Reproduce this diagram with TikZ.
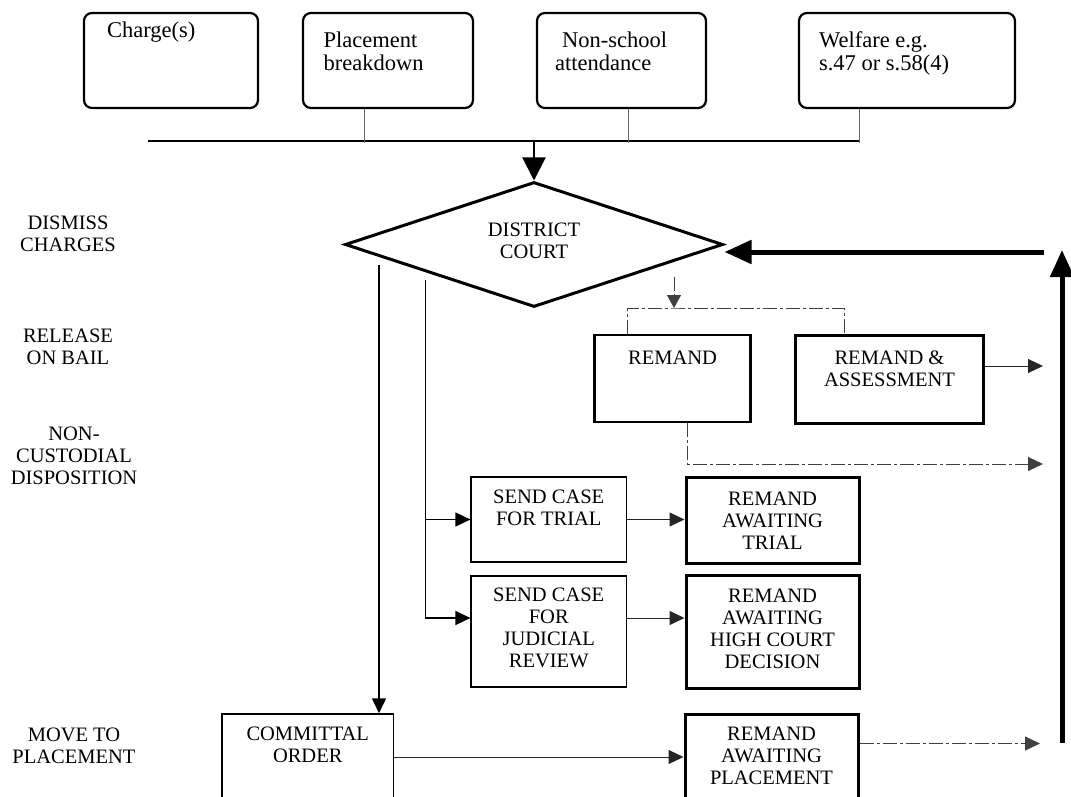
\documentclass[tikz,border=0pt]{standalone}
\usepackage{fontspec}
\setmainfont{Liberation Serif}
\usetikzlibrary{arrows.meta,shapes.geometric}

\tikzset{
  capsfont/.style={font=\fontsize{20.5}{22}\selectfont},
  topbox/.style={draw, line width=2.2pt, rounded corners=8pt, minimum height=95pt},
  toplbl/.style={anchor=north west, align=left, inner sep=0pt, font=\fontsize{22.5}{23}\selectfont},
  thinbox/.style={draw, line width=1.2pt, minimum width=155.5pt},
  heavybox/.style={draw, line width=3pt, minimum width=173pt},
  inlbl/.style={anchor=north, align=center, inner sep=0pt},
  side/.style={align=center},
  tip/.style={-{Triangle[length=15pt,width=14pt]}},
  feed/.style={line width=1.6pt, tip},
  thinarr/.style={line width=1pt, black!85, tip},
  conn/.style={line width=0.8pt, black!60},
  dline/.style={line width=1pt, black!75, dash pattern=on 14pt off 3pt on 3pt off 3pt},
  bigarr/.style={line width=5pt, -{Triangle[length=27pt,width=23pt]}},
}

\begin{document}
\begin{tikzpicture}[x=1pt, y=-1pt, capsfont]
\useasboundingbox (0,0) rectangle (1071,797);
\clip (0,0) rectangle (1071,797);

% referral routes
\node[topbox, minimum width=174pt, label={[toplbl, xshift=24pt, yshift=-10pt]north west:Charge(s)}] (charge) at (171,60.5) {};
\node[topbox, minimum width=170pt, label={[toplbl, xshift=21.5pt, yshift=-20pt]north west:Placement\\breakdown}] (breakdown) at (388,60.5) {};
\node[topbox, minimum width=169pt, label={[toplbl, xshift=19pt, yshift=-20pt]north west:\hspace*{7pt}Non-school\\attendance}] (school) at (621.5,60.5) {};
\node[topbox, minimum width=216pt, label={[toplbl, xshift=21pt, yshift=-20pt]north west:Welfare e.g.\\s.47 or s.58(4)}] (welfare) at (907,60.5) {};

\coordinate (busW) at (148,141);
\coordinate (busE) at (859,141);
\coordinate (busdrop) at (534,141);
\draw[line width=2pt] (busW) -- (busE);
\draw[conn] ([xshift=-24pt]breakdown.south) -- ++(0,34);
\draw[conn] ([xshift=6.5pt]school.south) -- ++(0,34);
\draw[conn] ([xshift=-48pt]welfare.south) -- ++(0,34);

% court
\node[draw, diamond, aspect=3, line width=3pt, minimum width=378pt, minimum height=125pt, inner sep=0pt,
  label={[align=center, anchor=center, yshift=3.5pt]center:DISTRICT\\COURT}] (court) at (534,244.5) {};
\draw[line width=2pt, -{Triangle[length=23pt,width=23pt]}] (busdrop) -- (court.north);

% outcomes down the side
\node[side] (dismiss) at (68,234) {DISMISS\\CHARGES};
\node[side] (bail) at (68,346.5) {RELEASE\\ON BAIL};
\node[side] (noncust) at (74,456) {NON-\\CUSTODIAL\\DISPOSITION};
\node[side] (moveto) at (74,746) {MOVE TO\\PLACEMENT};

% remand
\node[draw, line width=2.8pt, minimum width=156pt, minimum height=87pt, label={[inlbl, yshift=-17pt]north:REMAND}] (remand) at (672.6,378.5) {};
\node[draw, line width=3pt, minimum width=188pt, minimum height=88pt, label={[inlbl, yshift=-17pt]north:REMAND \&\\ASSESSMENT}] (assess) at (889.5,379) {};

\coordinate (forktop) at (674,277);
\coordinate (fork) at (674,308);
\draw[dline, -{Triangle[length=13pt,width=14pt]}] (forktop) -- (fork);
\draw[dline] ([xshift=-45pt]remand.north) |- (fork) -| ([xshift=-45pt]assess.north);

\coordinate (outA) at (1043,366);
\coordinate (outB) at (1043,464);
\draw[thinarr] ([yshift=13pt]assess.east) -- (outA);
\draw[dline, tip] ([xshift=15pt]remand.south) |- (outB);

% sending on
\node[thinbox, minimum height=85pt, label={[inlbl, yshift=-13pt]north:SEND CASE\\FOR TRIAL}] (trial) at (548.75,519.5) {};
\node[thinbox, minimum height=111pt, label={[inlbl, yshift=-12pt]north:SEND CASE\\FOR\\JUDICIAL\\REVIEW}] (judicial) at (548.75,631.5) {};
\node[heavybox, minimum height=86pt, label={[inlbl, yshift=-16pt]north:REMAND\\AWAITING\\TRIAL}] (awaittrial) at (772.5,520) {};
\node[heavybox, minimum height=113pt, label={[inlbl, yshift=-15pt]north:REMAND\\AWAITING\\HIGH COURT\\DECISION}] (highcourt) at (772.5,631.5) {};

\coordinate (splitA) at (379,265);
\coordinate (splitB) at (425.5,280);
\coordinate (jr) at ([yshift=13.5pt]judicial.west);
\draw[feed] (splitB) |- (jr);
\draw[feed] (splitB |- trial.west) -- (trial.west);
\draw[thinarr] (trial.east) -- (trial.east -| awaittrial.west);
\draw[thinarr] (jr -| judicial.east) -- (jr -| highcourt.west);

% committal
\node[draw, line width=1.5pt, minimum width=171.5pt, minimum height=116pt, label={[inlbl, yshift=-13pt]north:COMMITTAL\\ORDER}] (committal) at (307.75,772) {};
\node[heavybox, minimum height=116pt, label={[inlbl, yshift=-14pt]north:REMAND\\AWAITING\\PLACEMENT}] (awaitplace) at (771.5,772) {};

\draw[feed] (splitA) -- (splitA |- committal.north);
\coordinate (cr) at ([yshift=15pt]committal.east);
\draw[thinarr] (cr) -- (cr -| awaitplace.west);

\coordinate (outC) at (1040,743.5);
\draw[dline, tip] ([yshift=28.5pt]awaitplace.east) -- (outC);

% back to court
\coordinate (upfoot) at (1062,743);
\coordinate (uphead) at (1062,250);
\coordinate (fbstart) at (1044,252);
\draw[bigarr] (upfoot) -- (uphead);
\draw[bigarr] (fbstart) -- (fbstart -| court.east);
\end{tikzpicture}
\end{document}
